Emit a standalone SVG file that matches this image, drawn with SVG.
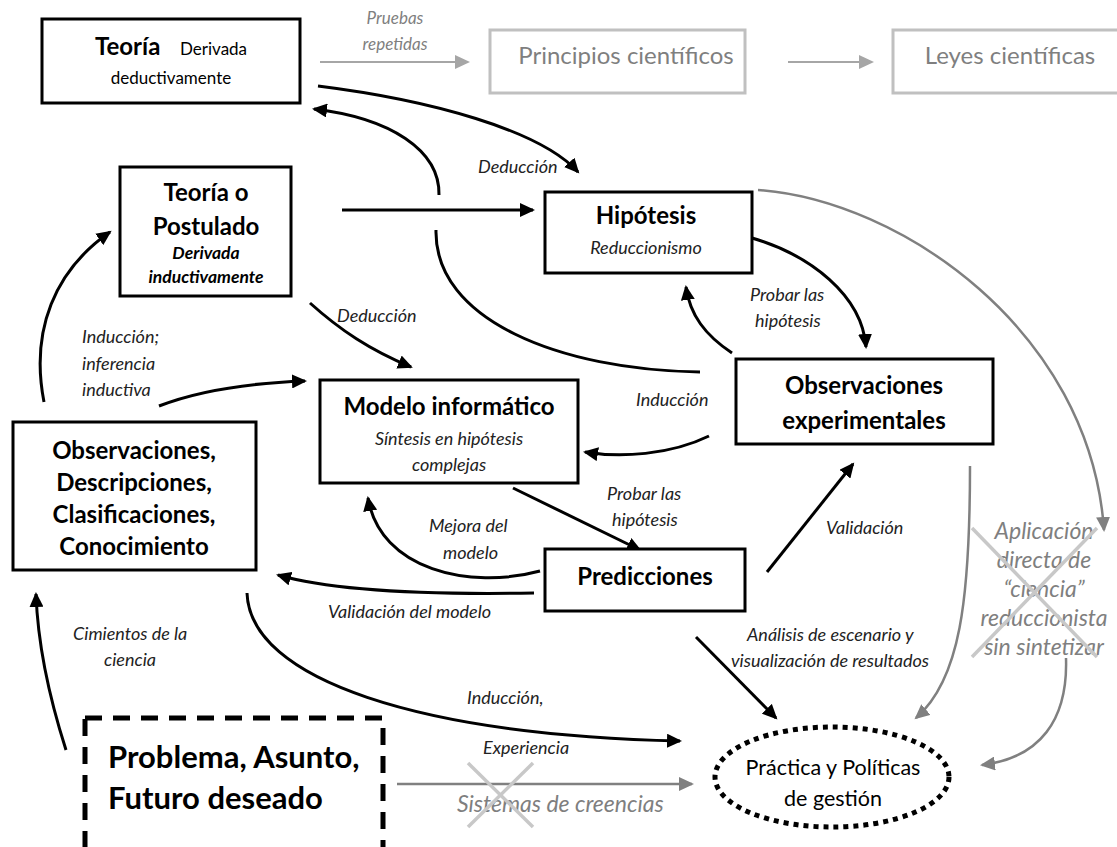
<svg xmlns="http://www.w3.org/2000/svg" width="1117" height="847" viewBox="0 0 1117 847">
<defs>
<marker id="ah" markerUnits="userSpaceOnUse" markerWidth="16" markerHeight="14" refX="13" refY="7" orient="auto"><path d="M0,0 L15,7 L0,14 z" fill="#000"/></marker>
<marker id="ahg" markerUnits="userSpaceOnUse" markerWidth="16" markerHeight="14" refX="13" refY="7" orient="auto"><path d="M0,0 L15,7 L0,14 z" fill="#808080"/></marker>
<marker id="ahl" markerUnits="userSpaceOnUse" markerWidth="16" markerHeight="14" refX="13" refY="7" orient="auto"><path d="M0,0 L15,7 L0,14 z" fill="#a6a6a6"/></marker>
</defs>
<style>
text{font-family:Lato,"Liberation Sans",sans-serif;fill:#000}
.box{fill:#fff;stroke:#000;stroke-width:3}
.gbox{fill:#fff;stroke:#c0c0c0;stroke-width:3}
.t{font-weight:bold;font-size:24px;text-anchor:middle}
.s{font-style:italic;font-size:18px;text-anchor:middle;fill:#222}
.lbl{font-style:italic;font-size:18px;fill:#222}
.g{fill:#7f7f7f}
.big{font-size:23px}
.c{fill:none;stroke:#000;stroke-width:3;marker-end:url(#ah)}
.cg{fill:none;stroke:#808080;stroke-width:2.5;marker-end:url(#ahg)}
.cl{fill:none;stroke:#a6a6a6;stroke-width:2;marker-end:url(#ahl)}
.x{stroke:#c8c8c8;stroke-width:3.5}
</style>
<rect width="1117" height="847" fill="#fff"/>

<g id="connectors">
<path class="c" d="M318,86 C430,100 540,130 578,172"/>
<path class="c" d="M439,195 C440,150 390,118 314,109"/>
<path fill="none" stroke="#000" stroke-width="3" d="M436,230 C434,320 560,370 700,372"/>
<path class="c" d="M342,210 L533,210"/>
<path class="c" d="M752,238 C810,255 862,295 866,347"/>
<path class="c" d="M732,353 C705,335 690,315 686,287"/>
<path class="c" d="M709,436 C670,455 620,458 585,452"/>
<path class="c" d="M310,303 C340,330 370,350 411,367"/>
<path class="c" d="M44,402 C30,330 55,270 110,232"/>
<path class="c" d="M159,406 C200,390 250,383 305,381"/>
<path class="c" d="M513,488 L640,550"/>
<path class="c" d="M540,571 C470,590 380,570 368,498"/>
<path class="c" d="M534,593 C420,595 330,590 278,575"/>
<path class="c" d="M767,572 L853,464"/>
<path class="c" d="M696,637 L776,718"/>
<path class="c" d="M247,593 C250,680 420,735 680,741"/>
<path class="c" d="M66,750 C50,700 38,650 36,594"/>
<path class="cg" d="M397,784 L692,784"/>
<path class="cg" d="M758,190 C900,200 1090,330 1104,530"/>
<path class="cg" d="M970,466 C970,600 960,680 916,718"/>
<path class="cg" d="M1066,658 C1068,720 1040,758 982,765"/>
<path class="cl" d="M320,62 L468,62"/>
<path class="cl" d="M788,62 L872,62"/>
</g>

<g id="labels">
<text class="lbl g" x="395" y="24" text-anchor="middle" style="font-size:17px">Pruebas</text>
<text class="lbl g" x="395" y="50" text-anchor="middle" style="font-size:17px">repetidas</text>
<text class="lbl" x="478" y="173">Deducción</text>
<text class="lbl" x="750" y="301">Probar las</text>
<text class="lbl" x="755" y="327">hipótesis</text>
<text class="lbl" x="636" y="406">Inducción</text>
<text class="lbl" x="337" y="322">Deducción</text>
<text class="lbl" x="82" y="343">Inducción;</text>
<text class="lbl" x="82" y="370">inferencia</text>
<text class="lbl" x="82" y="396">inductiva</text>
<text class="lbl" x="607" y="500">Probar las</text>
<text class="lbl" x="612" y="526">hipótesis</text>
<text class="lbl" x="429" y="532">Mejora del</text>
<text class="lbl" x="443" y="559">modelo</text>
<text class="lbl" x="328" y="618">Validación del modelo</text>
<text class="lbl" x="826" y="534">Validación</text>
<text class="lbl" x="747" y="641">Análisis de escenario y</text>
<text class="lbl" x="731" y="667">visualización de resultados</text>
<text class="lbl" x="467" y="704">Inducción,</text>
<text class="lbl" x="483" y="754">Experiencia</text>
<text class="lbl" x="73" y="640">Cimientos de la</text>
<text class="lbl" x="104" y="666">ciencia</text>
<text class="lbl g big" x="457" y="812">Sistemas de creencias</text>
<line class="x" x1="468" y1="763" x2="533" y2="827"/>
<line class="x" x1="533" y1="763" x2="468" y2="827"/>
<g text-anchor="middle">
<text class="lbl g big" x="1044" y="539">Aplicación</text>
<text class="lbl g big" x="1044" y="568">directa de</text>
<text class="lbl g big" x="1044" y="597">“ciencia”</text>
<text class="lbl g big" x="1044" y="626">reduccionista</text>
<text class="lbl g big" x="1044" y="655">sin sintetizar</text>
</g>
<line class="x" x1="972" y1="528" x2="1097" y2="657" stroke-width="4"/>
<line class="x" x1="1097" y1="528" x2="972" y2="657" stroke-width="4"/>
</g>

<g id="teoria">
<rect class="box" x="42" y="19" width="258" height="84"/>
<text x="95" y="55" font-weight="bold" font-size="24">Teoría</text>
<text x="180" y="55" font-size="17">Derivada</text>
<text x="171" y="84" font-size="17" text-anchor="middle">deductivamente</text>
</g>

<g id="principios">
<rect class="gbox" x="490" y="30" width="255" height="63"/>
<text class="g" x="626" y="64" font-size="24" text-anchor="middle">Principios científicos</text>
</g>

<g id="leyes">
<rect class="gbox" x="893" y="30" width="230" height="63"/>
<text class="g" x="1010" y="64" font-size="24" text-anchor="middle">Leyes científicas</text>
</g>

<g id="teoria-postulado">
<rect class="box" x="120" y="167" width="171" height="129"/>
<text class="t" x="206" y="201">Teoría o</text>
<text class="t" x="206" y="235">Postulado</text>
<text x="206" y="259" font-size="17.5" font-weight="bold" font-style="italic" text-anchor="middle">Derivada</text>
<text x="206" y="283" font-size="17.5" font-weight="bold" font-style="italic" text-anchor="middle">inductivamente</text>
</g>

<g id="hipotesis">
<rect class="box" x="545" y="192" width="207" height="81"/>
<text class="t" x="646" y="224">Hipótesis</text>
<text class="s" x="646" y="254">Reduccionismo</text>
</g>

<g id="modelo">
<rect class="box" x="320" y="380" width="258" height="103"/>
<text class="t" x="449" y="415">Modelo informático</text>
<text class="s" x="449" y="445">Síntesis en hipótesis</text>
<text class="s" x="449" y="471">complejas</text>
</g>

<g id="obs-exp">
<rect class="box" x="736" y="359" width="257" height="85"/>
<text class="t" x="864" y="394">Observaciones</text>
<text class="t" x="864" y="429">experimentales</text>
</g>

<g id="observaciones">
<rect class="box" x="13" y="422" width="243" height="148"/>
<text class="t" x="134" y="459">Observaciones,</text>
<text class="t" x="134" y="491">Descripciones,</text>
<text class="t" x="134" y="523">Clasificaciones,</text>
<text class="t" x="134" y="555">Conocimiento</text>
</g>

<g id="predicciones">
<rect class="box" x="545" y="549" width="200" height="62"/>
<text class="t" x="645" y="585">Predicciones</text>
</g>

<g id="problema">
<rect x="85" y="718" width="298" height="145" fill="none" stroke="#000" stroke-width="5" stroke-dasharray="17 11"/>
<text x="108" y="768" font-size="31" font-weight="bold">Problema, Asunto,</text>
<text x="108" y="809" font-size="31" font-weight="bold">Futuro deseado</text>
</g>

<g id="practica">
<ellipse cx="832" cy="777" rx="117" ry="50" fill="#fff" stroke="#000" stroke-width="5" stroke-dasharray="5 5"/>
<text x="833" y="775" font-size="21.5" text-anchor="middle">Práctica y Políticas</text>
<text x="833" y="806" font-size="21.5" text-anchor="middle">de gestión</text>
</g>
</svg>
